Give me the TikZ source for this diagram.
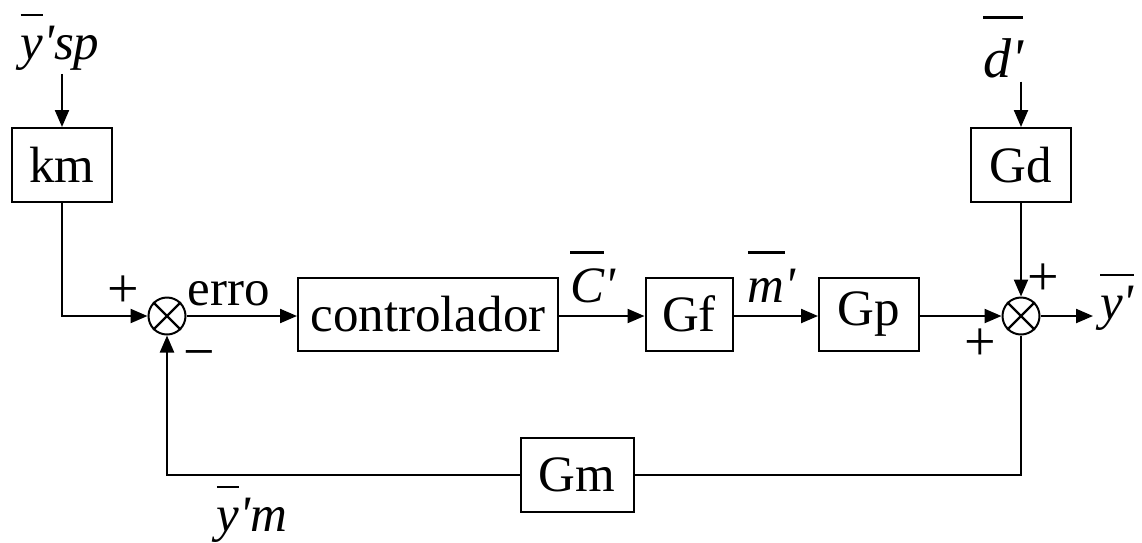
\documentclass[tikz,border=0pt]{standalone}
\usepackage{fontspec}
\newfontfamily\tnr{Liberation Serif}
\usetikzlibrary{arrows.meta}
% barra sobre a variavel (desvio)
\newcommand{\ovl}[2][0.85em]{\setbox0\hbox{#2}\rlap{\rule[#1]{\wd0}{0.05em}}\box0}
\tikzset{
  blk/.style={draw, line width=2pt, minimum height=73pt, inner sep=0pt},
  soma/.style={draw, circle, line width=2pt, minimum size=37pt, inner sep=0pt},
  seta/.style={line width=2.2pt, -{Triangle[length=17pt,width=14pt]}},
  linha/.style={line width=2.2pt},
  sinal/.style={font=\tnr\fontsize{56}{60}\selectfont, inner sep=0pt},
  rot/.style={anchor=base, yshift=14pt},
}
\begin{document}
\begin{tikzpicture}[x=1pt, y=-1pt, font=\tnr\fontsize{51}{60}\selectfont]
  \useasboundingbox (0,0) rectangle (1142,542);
  % blocos
  \node (ysp) at (60,42) {\itshape\ovl{y}'sp};
  \node[blk, minimum width=100pt, minimum height=74pt] (km) at (62,165) {km};
  \node[soma] (s1) at (167,316) {};
  \node[blk, minimum width=260pt] (ctrl) at (428,314) {controlador};
  \node[blk, minimum width=87pt] (gf) at (689,314) {Gf};
  \node[blk, minimum width=100pt] (gp) at (869,314) {Gp};
  \node[soma] (s2) at (1021,316) {};
  \node[blk, minimum width=100pt, minimum height=74pt] (gd) at (1021,165) {Gd};
  \node[font=\tnr\fontsize{56}{60}\selectfont] (d) at (1003,47) {\itshape\ovl[1.05em]{d'}};
  \node[anchor=west, inner sep=7pt] (y) at (1093,302) {\itshape\ovl{y'}};
  \node[blk, minimum width=113pt, minimum height=74pt] (gm) at (577,475) {Gm};
  \node (ym) at (252,514) {\itshape\ovl{y}'m};
  % cruz dos somadores
  \draw[linha] (s1.north west) -- (s1.south east) (s1.north east) -- (s1.south west);
  \draw[linha] (s2.north west) -- (s2.south east) (s2.north east) -- (s2.south west);
  % sinais
  \node[sinal] (p1) at (123,292) {+};
  \node[sinal] (m1) at (199,360) {−};
  \node[sinal] (p2) at (1043,280) {+};
  \node[sinal] (p3) at (980,345) {+};
  % ligacoes
  \draw[seta] (km.north |- ysp.south) -- (km.north);
  \draw[seta] (km.south) |- (s1.west);
  \draw[seta] (s1.east) -- (ctrl.west |- s1.east) node[rot, pos=0.38, yshift=-3pt] {erro};
  \draw[seta] (ctrl.east |- s1.east) -- (gf.west |- s1.east) node[rot, midway, xshift=-9pt] {\itshape\ovl[0.95em]{C}'};
  \draw[seta] (gf.east |- s1.east) -- (gp.west |- s1.east) node[rot, midway, xshift=-4pt] {\itshape\ovl[0.95em]{m}'};
  \draw[seta] (gp.east |- s2.west) -- (s2.west);
  \draw[seta] (gd.south) -- (s2.north);
  \draw[seta] (gd.north |- d.south) -- (gd.north);
  \draw[seta] (s2.east) -- (s2 -| y.west);
  \draw[linha] (s2.south) |- (gm.east);
  \draw[seta] (gm.west) -| (s1.south);
\end{tikzpicture}
\end{document}
